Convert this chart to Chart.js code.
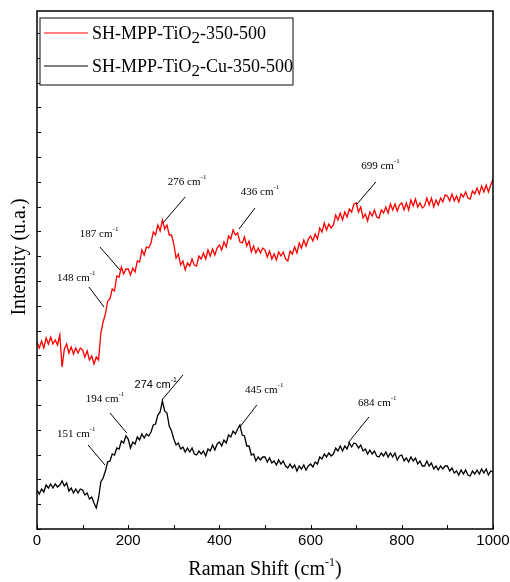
<!DOCTYPE html>
<html>
<head>
<meta charset="utf-8">
<script src="https://cdn.jsdelivr.net/npm/chart.js@4"></script>
<style>
    body { margin: 0; background: #fff; }
    #wrap { width: 510px; height: 582px; }
</style>
</head>
<body>
<div id="wrap"><canvas id="ramanChart" width="510" height="582"></canvas></div>
<script>
// Raman spectra (intensity in arbitrary units)

const shift = [
    0, 5, 10, 15, 20, 25, 30, 35, 40, 45,
    50, 55, 60, 65, 70, 75, 80, 85, 90, 95,
    100, 105, 110, 115, 120, 125, 130, 135, 140, 145,
    150, 155, 160, 165, 170, 175, 180, 185, 190, 195,
    200, 205, 210, 215, 220, 225, 230, 235, 240, 245,
    250, 255, 260, 265, 270, 275, 280, 285, 290, 295,
    300, 305, 310, 315, 320, 325, 330, 335, 340, 345,
    350, 355, 360, 365, 370, 375, 380, 385, 390, 395,
    400, 405, 410, 415, 420, 425, 430, 435, 440, 445,
    450, 455, 460, 465, 470, 475, 480, 485, 490, 495,
    500, 505, 510, 515, 520, 525, 530, 535, 540, 545,
    550, 555, 560, 565, 570, 575, 580, 585, 590, 595,
    600, 605, 610, 615, 620, 625, 630, 635, 640, 645,
    650, 655, 660, 665, 670, 675, 680, 685, 690, 695,
    700, 705, 710, 715, 720, 725, 730, 735, 740, 745,
    750, 755, 760, 765, 770, 775, 780, 785, 790, 795,
    800, 805, 810, 815, 820, 825, 830, 835, 840, 845,
    850, 855, 860, 865, 870, 875, 880, 885, 890, 895,
    900, 905, 910, 915, 920, 925, 930, 935, 940, 945,
    950, 955, 960, 965, 970, 975, 980, 985, 990, 995,
    1000
];

// SH-MPP-TiO2-350-500 (red)
const tio2 = [
    187, 181, 188, 181, 191, 185, 192, 185, 189, 184,
    194, 162, 180, 185, 176, 182, 175, 181, 176, 181,
    179, 172, 178, 169, 173, 165, 172, 169, 196, 207,
    215, 228, 230, 240, 238, 253, 252, 262, 255, 260,
    260, 254, 261, 257, 268, 267, 279, 274, 282, 281,
    286, 297, 294, 304, 298, 309, 300, 304, 294, 294,
    285, 271, 275, 264, 268, 259, 266, 263, 270, 264,
    263, 273, 270, 276, 270, 279, 273, 280, 274, 281,
    284, 279, 287, 282, 293, 290, 299, 294, 296, 287,
    286, 292, 283, 288, 277, 283, 276, 281, 276, 281,
    279, 272, 278, 270, 275, 269, 277, 273, 277, 270,
    268, 278, 275, 282, 276, 286, 281, 289, 283, 290,
    293, 288, 295, 290, 301, 297, 306, 299, 305, 301,
    304, 314, 309, 316, 309, 317, 312, 320, 317, 325,
    326, 317, 322, 311, 315, 308, 317, 313, 319, 312,
    311, 319, 316, 322, 316, 325, 319, 325, 318, 324,
    326, 319, 326, 319, 329, 323, 330, 322, 326, 321,
    323, 331, 324, 331, 322, 329, 324, 331, 327, 334,
    333, 328, 335, 328, 333, 327, 335, 332, 337, 331,
    330, 338, 335, 341, 335, 343, 337, 344, 337, 344,
    350
];

// SH-MPP-TiO2-Cu-350-500 (black)
const tio2Cu = [
    39, 35, 40, 37, 44, 41, 45, 41, 45, 42,
    44, 48, 43, 46, 38, 41, 36, 40, 36, 40,
    39, 34, 36, 30, 32, 26, 21, 31, 47, 51,
    58, 67, 68, 75, 74, 81, 80, 88, 86, 93,
    90, 81, 87, 85, 92, 89, 95, 91, 95, 93,
    97, 104, 105, 114, 117, 128, 118, 116, 103, 98,
    90, 84, 86, 80, 82, 77, 81, 77, 81, 75,
    74, 78, 75, 78, 73, 80, 78, 84, 79, 85,
    87, 83, 89, 86, 94, 92, 98, 95, 100, 104,
    94, 93, 83, 83, 74, 75, 68, 72, 69, 72,
    72, 67, 71, 66, 68, 64, 69, 65, 68, 63,
    61, 65, 61, 64, 58, 63, 60, 64, 59, 63,
    65, 62, 67, 65, 72, 70, 75, 72, 76, 73,
    75, 81, 78, 83, 78, 83, 80, 86, 82, 86,
    85, 81, 84, 78, 80, 75, 79, 75, 78, 73,
    72, 76, 73, 77, 72, 76, 72, 76, 69, 73,
    74, 68, 71, 67, 72, 68, 71, 65, 68, 63,
    63, 68, 63, 66, 60, 63, 59, 63, 60, 63,
    63, 58, 61, 56, 58, 54, 59, 55, 59, 54,
    53, 58, 55, 59, 55, 60, 56, 60, 54, 58,
    57
];

// peak labels: text, tip (shift, intensity), leader start, label left/middle
const peakText  = ['148', '187', '276', '436', '699', '151', '194', '274', '445', '684'];
const peakTip   = [[147, 222], [182, 259], [276, 306], [443, 300], [700, 324],
                   [149, 64], [197, 96], [274, 129], [445, 102], [682, 86]];
const peakFrom  = [[114, 242], [138, 282], [325, 332], [478, 321], [743, 347],
                   [112, 84], [160, 116], [320, 154], [482, 124], [728, 112]];
const peakLabel = [[44, 251], [94, 295], [287, 347], [447, 337], [711, 363],
                   [44, 95], [107, 130], [214, 144], [456, 139], [704, 126]];
const peakSans  = [false, false, false, false, false, false, false, true, false, false];

const seriesNames = ['SH-MPP-TiO', 'SH-MPP-TiO'];
const seriesTails = ['-350-500', '-Cu-350-500'];
const seriesColors = ['#ff0000', '#000000'];

const SERIF = '"Liberation Serif", "Times New Roman", serif';
const SANS = '"Liberation Sans", Arial, sans-serif';

function toPoints(values) {
    return values.map((v, i) => ({ x: shift[i], y: v }));
}

// draws text pieces one after another (for sub/superscripts), returns width
function drawScripted(ctx, parts, x, y) {
    let cx = x;
    parts.forEach(p => {
        ctx.font = p.font;
        ctx.fillText(p.text, cx, y + (p.dy || 0));
        cx += ctx.measureText(p.text).width;
    });
    return cx - x;
}

function measureScripted(ctx, parts) {
    let w = 0;
    parts.forEach(p => {
        ctx.font = p.font;
        w += ctx.measureText(p.text).width;
    });
    return w;
}

const decorations = {
    id: 'decorations',
    afterDraw(chart) {
        const { ctx, chartArea: a, scales: { x, y } } = chart;
        ctx.save();

        // frame + inward ticks
        ctx.strokeStyle = '#000';
        ctx.lineWidth = 1.5;
        ctx.strokeRect(a.left, a.top, a.right - a.left, a.bottom - a.top);
        ctx.lineWidth = 1;
        ctx.beginPath();
        x.ticks.forEach(t => {
            const px = Math.round(x.getPixelForValue(t.value)) + 0.5;
            ctx.moveTo(px, a.bottom);
            ctx.lineTo(px, a.bottom - 4);
        });
        y.ticks.forEach(t => {
            if (t.value >= y.max - 1) return;
            const py = Math.round(y.getPixelForValue(t.value)) + 0.5;
            ctx.moveTo(a.left, py);
            ctx.lineTo(a.left + 4, py);
        });
        ctx.stroke();

        ctx.fillStyle = '#000';
        ctx.textBaseline = 'middle';
        ctx.textAlign = 'left';

        // x axis title
        const xt = [
            { text: 'Raman Shift (cm', font: `20px ${SERIF}` },
            { text: '-1', font: `12px ${SERIF}`, dy: -7 },
            { text: ')', font: `20px ${SERIF}` }
        ];
        const xw = measureScripted(ctx, xt);
        drawScripted(ctx, xt, (a.left + a.right) / 2 - xw / 2, 570);

        // y axis title
        ctx.save();
        ctx.translate(20, 257);
        ctx.rotate(-Math.PI / 2);
        ctx.textAlign = 'center';
        ctx.font = `20px ${SERIF}`;
        ctx.fillText('Intensity (u.a.)', 0, 0);
        ctx.restore();

        // peak labels with leader lines
        ctx.lineWidth = 1;
        peakText.forEach((txt, i) => {
            const fam = peakSans[i] ? SANS : SERIF;
            ctx.strokeStyle = '#000';
            ctx.beginPath();
            ctx.moveTo(x.getPixelForValue(peakFrom[i][0]), y.getPixelForValue(peakFrom[i][1]));
            ctx.lineTo(x.getPixelForValue(peakTip[i][0]), y.getPixelForValue(peakTip[i][1]));
            ctx.stroke();
            drawScripted(ctx, [
                { text: txt + ' cm', font: `11px ${fam}` },
                { text: '-1', font: `7px ${fam}`, dy: -5 }
            ], x.getPixelForValue(peakLabel[i][0]), y.getPixelForValue(peakLabel[i][1]));
        });

        // legend box
        const lx = 40, ly = 18, lw = 253, lh = 67;
        ctx.fillStyle = '#fff';
        ctx.fillRect(lx, ly, lw, lh);
        ctx.strokeStyle = '#333';
        ctx.lineWidth = 1.2;
        ctx.strokeRect(lx, ly, lw, lh);
        seriesNames.forEach((name, i) => {
            const rowY = ly + 15 + i * 33;
            ctx.strokeStyle = seriesColors[i];
            ctx.lineWidth = 1.2;
            ctx.beginPath();
            ctx.moveTo(lx + 4, rowY);
            ctx.lineTo(lx + 48, rowY);
            ctx.stroke();
            ctx.fillStyle = '#000';
            drawScripted(ctx, [
                { text: name, font: `18px ${SERIF}` },
                { text: '2', font: `17px ${SERIF}`, dy: 5 },
                { text: seriesTails[i], font: `18px ${SERIF}` }
            ], lx + 52, rowY + 1);
        });

        ctx.restore();
    }
};

function initializeChart() {
    const ctx = document.getElementById('ramanChart').getContext('2d');
    new Chart(ctx, {
        type: 'line',
        data: {
            datasets: [{
                label: 'SH-MPP-TiO2-350-500',
                data: toPoints(tio2),
                borderColor: seriesColors[0],
                borderWidth: 1.3,
                pointRadius: 0,
                tension: 0
            }, {
                label: 'SH-MPP-TiO2-Cu-350-500',
                data: toPoints(tio2Cu),
                borderColor: seriesColors[1],
                borderWidth: 1.3,
                pointRadius: 0,
                tension: 0
            }]
        },
        options: {
            responsive: false,
            animation: false,
            layout: { padding: { left: 37, right: 17, top: 11, bottom: 0 } },
            plugins: {
                legend: { display: false },
                tooltip: { enabled: false }
            },
            scales: {
                x: {
                    type: 'linear',
                    min: 0,
                    max: 1000,
                    grid: { display: false, drawTicks: false },
                    border: { display: false },
                    ticks: {
                        stepSize: 100,
                        autoSkip: false,
                        maxRotation: 0,
                        padding: 3,
                        color: '#000',
                        font: { family: SANS, size: 15 },
                        callback: v => (v % 200 === 0 ? v : '')
                    },
                    afterFit: s => {
                        s.height = 53;
                        s.paddingLeft = 0;
                        s.paddingRight = 0;
                    }
                },
                y: {
                    min: 0,
                    max: 518,
                    grid: { display: false, drawTicks: false },
                    border: { display: false },
                    ticks: { display: false, stepSize: 24.8 },
                    afterFit: s => { s.width = 0; }
                }
            }
        },
        plugins: [decorations]
    });
}

initializeChart();
</script>
</body>
</html>
